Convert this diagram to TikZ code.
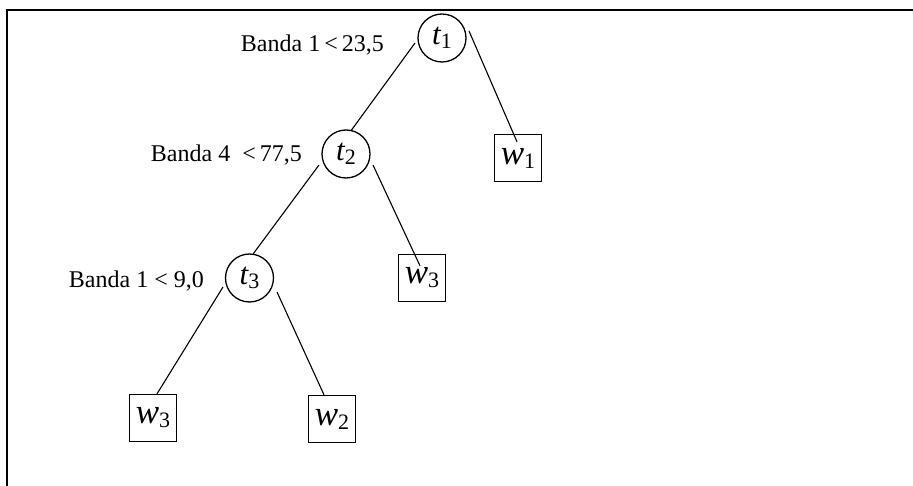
\documentclass[tikz,border=0pt]{standalone}
\usepackage{fontspec}
\setmainfont{Liberation Serif}
\usetikzlibrary{calc}
\tikzset{
  test/.style={circle,draw,line width=1.3pt,minimum size=48pt,inner sep=0pt},
  leaf/.style={rectangle,draw,line width=1.3pt,minimum width=47pt,minimum height=47pt,inner sep=0pt},
  cond/.style={font=\fontsize{24}{26}\selectfont,inner sep=0pt},
  edge/.style={line width=1.1pt},
  frame/.style={line width=2pt}
}
\newcommand{\tsym}[1]{{\fontsize{31}{32}\selectfont\itshape t}\raisebox{-4pt}{\fontsize{22}{22}\selectfont #1}}
\newcommand{\wsym}[1]{{\fontsize{35}{36}\selectfont\itshape w}\raisebox{-4pt}{\fontsize{22}{22}\selectfont #1}}
\begin{document}
\begin{tikzpicture}[x=1pt,y=-1pt]
\useasboundingbox (0,0) rectangle (913,486);
\coordinate (fbl) at (7,486);
\coordinate (ftl) at (7,10);
\coordinate (ftr) at (913,10);
\draw[frame] (fbl) -- (ftl) -- (ftr);

\node[test] (t1) at (442,38) {\tsym{1}};
\node[test] (t2) at (346,154) {\tsym{2}};
\node[test] (t3) at (249.5,278) {\tsym{3}};
\node[leaf] (w1) at (518,158) {\wsym{1}};
\node[leaf] (w3a) at (422,278) {\wsym{3}};
\node[leaf] (w3b) at (153,418) {\wsym{3}};
\node[leaf] (w2) at (332,419) {\wsym{2}};

\node[cond,anchor=east] (c1) at (384,45) {Banda 1\,<\,23,5};
\node[cond,anchor=east] (c2) at (302,155) {Banda 4 \ <\,77,5};
\node[cond,anchor=east] (c3) at (204,281) {Banda 1 < 9,0};

\coordinate (e1) at ($(w1.north)+(-1,8)$);
\coordinate (e2) at ($(w3a.north)+(-2,12)$);
\draw[edge] ($(t1.center)+(-27,5)$) -- (t2.77);
\draw[edge] ($(t1.center)+(27,-7)$) -- (e1);
\draw[edge] ($(t2.center)+(-27,11)$) -- (t3.81);
\draw[edge] ($(t2.center)+(27,11)$) -- (e2);
\draw[edge] ($(t3.center)+(-26.5,9)$) -- ($(w3b.north)+(4,0)$);
\draw[edge] ($(t3.center)+(27.5,14)$) -- ($(w2.north)+(-8,0)$);
\end{tikzpicture}
\end{document}
